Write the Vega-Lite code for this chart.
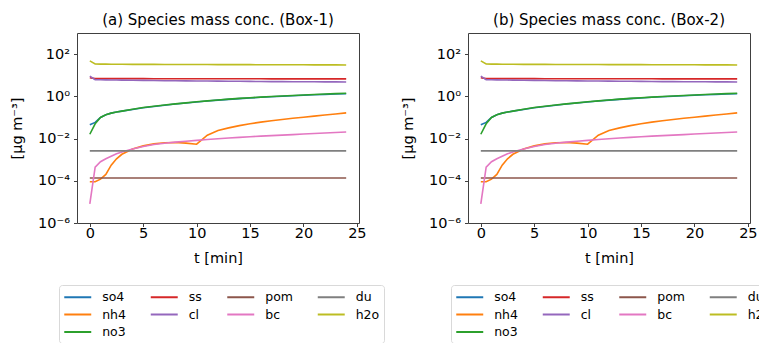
{
  "$schema": "https://vega.github.io/schema/vega-lite/v6.json",
  "padding": {"left": 9, "top": 12, "right": 0, "bottom": 0},
  "bounds": "flush",
  "spacing": 109,
  "background": "white",
  "config": {
    "font": "DejaVu Sans",
    "view": {"stroke": "#404040", "strokeWidth": 1},
    "axis": {
      "grid": false, "domain": false, "tickColor": "#404040", "tickSize": 3.5, "tickWidth": 1,
      "labelFontSize": 14.5, "labelColor": "#000", "titleFontSize": 14.5, "titleFontWeight": "normal",
      "titleColor": "#000"
    },
    "axisX": {"labelPadding": 0, "titlePadding": 11},
    "axisY": {"labelPadding": 4, "titlePadding": 13},
    "title": {"fontSize": 15, "fontWeight": "normal", "color": "#000", "offset": 5},
    "legend": {"labelFont": "DejaVu Sans"}
  },
  "datasets": {
    "conc": [
      {"t": 0, "so4": 0.045, "nh4": 0.00009, "no3": 0.016, "ss": 7.6, "cl": 9.0, "pom": 0.000135, "bc": 0.000008, "du": 0.0026, "h2o": 48},
      {"t": 0.5, "so4": 0.058, "nh4": 0.00009, "no3": 0.05, "ss": 6.9, "cl": 6.2, "pom": 0.000135, "bc": 0.00044, "du": 0.0026, "h2o": 34},
      {"t": 1, "so4": 0.10, "nh4": 0.00012, "no3": 0.10, "ss": 6.9, "cl": 6.1, "pom": 0.000135, "bc": 0.0008, "du": 0.0026, "h2o": 33.6},
      {"t": 1.5, "so4": 0.135, "nh4": 0.0002, "no3": 0.135, "ss": 6.9, "cl": 6.0, "pom": 0.000135, "bc": 0.0011, "du": 0.0026, "h2o": 33.4},
      {"t": 2, "so4": 0.16, "nh4": 0.00055, "no3": 0.16, "ss": 6.9, "cl": 5.95, "pom": 0.000135, "bc": 0.00145, "du": 0.0026, "h2o": 33.2},
      {"t": 2.5, "so4": 0.18, "nh4": 0.0011, "no3": 0.18, "ss": 6.9, "cl": 5.9, "pom": 0.000135, "bc": 0.0019, "du": 0.0026, "h2o": 33.1},
      {"t": 3, "so4": 0.20, "nh4": 0.0018, "no3": 0.20, "ss": 6.9, "cl": 5.85, "pom": 0.000135, "bc": 0.0023, "du": 0.0026, "h2o": 33.0},
      {"t": 4, "so4": 0.24, "nh4": 0.0032, "no3": 0.245, "ss": 6.88, "cl": 5.8, "pom": 0.000135, "bc": 0.0032, "du": 0.0026, "h2o": 32.8},
      {"t": 5, "so4": 0.29, "nh4": 0.0045, "no3": 0.295, "ss": 6.87, "cl": 5.7, "pom": 0.000135, "bc": 0.0042, "du": 0.0026, "h2o": 32.6},
      {"t": 6, "so4": 0.33, "nh4": 0.0056, "no3": 0.34, "ss": 6.86, "cl": 5.6, "pom": 0.000135, "bc": 0.0052, "du": 0.0026, "h2o": 32.5},
      {"t": 7, "so4": 0.38, "nh4": 0.0063, "no3": 0.39, "ss": 6.85, "cl": 5.5, "pom": 0.000135, "bc": 0.006, "du": 0.0026, "h2o": 32.4},
      {"t": 8, "so4": 0.43, "nh4": 0.0065, "no3": 0.44, "ss": 6.84, "cl": 5.45, "pom": 0.000135, "bc": 0.0068, "du": 0.0026, "h2o": 32.3},
      {"t": 9, "so4": 0.48, "nh4": 0.0061, "no3": 0.49, "ss": 6.83, "cl": 5.4, "pom": 0.000135, "bc": 0.0075, "du": 0.0026, "h2o": 32.2},
      {"t": 10, "so4": 0.54, "nh4": 0.0054, "no3": 0.55, "ss": 6.82, "cl": 5.35, "pom": 0.000135, "bc": 0.0082, "du": 0.0026, "h2o": 32.1},
      {"t": 11, "so4": 0.60, "nh4": 0.0145, "no3": 0.61, "ss": 6.81, "cl": 5.3, "pom": 0.000135, "bc": 0.009, "du": 0.0026, "h2o": 32.0},
      {"t": 12, "so4": 0.66, "nh4": 0.024, "no3": 0.67, "ss": 6.8, "cl": 5.25, "pom": 0.000135, "bc": 0.0098, "du": 0.0026, "h2o": 31.9},
      {"t": 13, "so4": 0.72, "nh4": 0.032, "no3": 0.735, "ss": 6.79, "cl": 5.2, "pom": 0.000135, "bc": 0.0106, "du": 0.0026, "h2o": 31.8},
      {"t": 14, "so4": 0.78, "nh4": 0.041, "no3": 0.80, "ss": 6.78, "cl": 5.15, "pom": 0.000135, "bc": 0.0114, "du": 0.0026, "h2o": 31.7},
      {"t": 15, "so4": 0.84, "nh4": 0.05, "no3": 0.86, "ss": 6.77, "cl": 5.1, "pom": 0.000135, "bc": 0.0122, "du": 0.0026, "h2o": 31.6},
      {"t": 16, "so4": 0.90, "nh4": 0.06, "no3": 0.92, "ss": 6.76, "cl": 5.05, "pom": 0.000135, "bc": 0.013, "du": 0.0026, "h2o": 31.5},
      {"t": 17, "so4": 0.96, "nh4": 0.07, "no3": 0.98, "ss": 6.75, "cl": 5.0, "pom": 0.000135, "bc": 0.0138, "du": 0.0026, "h2o": 31.4},
      {"t": 18, "so4": 1.01, "nh4": 0.08, "no3": 1.04, "ss": 6.74, "cl": 4.97, "pom": 0.000135, "bc": 0.0146, "du": 0.0026, "h2o": 31.3},
      {"t": 19, "so4": 1.07, "nh4": 0.091, "no3": 1.10, "ss": 6.73, "cl": 4.94, "pom": 0.000135, "bc": 0.0154, "du": 0.0026, "h2o": 31.2},
      {"t": 20, "so4": 1.12, "nh4": 0.103, "no3": 1.16, "ss": 6.72, "cl": 4.91, "pom": 0.000135, "bc": 0.0164, "du": 0.0026, "h2o": 31.1},
      {"t": 21, "so4": 1.18, "nh4": 0.116, "no3": 1.22, "ss": 6.71, "cl": 4.88, "pom": 0.000135, "bc": 0.0174, "du": 0.0026, "h2o": 31.0},
      {"t": 22, "so4": 1.23, "nh4": 0.13, "no3": 1.28, "ss": 6.7, "cl": 4.85, "pom": 0.000135, "bc": 0.0184, "du": 0.0026, "h2o": 30.9},
      {"t": 23, "so4": 1.28, "nh4": 0.146, "no3": 1.34, "ss": 6.7, "cl": 4.82, "pom": 0.000135, "bc": 0.0194, "du": 0.0026, "h2o": 30.8},
      {"t": 24, "so4": 1.33, "nh4": 0.165, "no3": 1.40, "ss": 6.7, "cl": 4.8, "pom": 0.000135, "bc": 0.0205, "du": 0.0026, "h2o": 30.7}
    ]
  },
  "resolve": {"scale": {"color": "independent"}, "legend": {"color": "independent"}},
  "hconcat": [
    {
      "width": 282, "height": 190,
      "title": "(a) Species mass conc. (Box-1)",
      "data": {"name": "conc"},
      "transform": [{"fold": ["so4", "nh4", "no3", "ss", "cl", "pom", "bc", "du", "h2o"], "as": ["species", "value"]}],
      "mark": {"type": "line", "strokeWidth": 1.6, "clip": true},
      "encoding": {
        "x": {"field": "t", "type": "quantitative", "scale": {"domain": [-1.2, 25.2], "nice": false, "zero": false}, "axis": {"values": [0, 5, 10, 15, 20, 25], "title": "t [min]"}},
        "y": {"field": "value", "type": "quantitative", "scale": {"type": "log", "domain": [0.000001, 1000], "nice": false}, "axis": {"values": [0.000001, 0.0001, 0.01, 1, 100], "labelExpr": "datum.value > 50 ? '10²' : datum.value > 0.5 ? '10⁰' : datum.value > 0.005 ? '10⁻²' : datum.value > 0.00005 ? '10⁻⁴' : '10⁻⁶'", "title": "[μg m⁻³]"}},
        "color": {"field": "species", "type": "nominal",
          "scale": {"domain": ["so4", "ss", "pom", "du", "nh4", "cl", "bc", "h2o", "no3"], "range": ["#1f77b4", "#d62728", "#8c564b", "#7f7f7f", "#ff7f0e", "#9467bd", "#e377c2", "#bcbd22", "#2ca02c"]},
          "legend": {"title": null, "orient": "none", "direction": "horizontal", "gridAlign": "each", "legendX": -18, "legendY": 252, "columns": 4, "symbolType": "M-1,0H3", "symbolSize": 182, "symbolStrokeWidth": 2, "labelFontSize": 12.5, "labelOffset": 23.2, "columnPadding": 20.5, "rowPadding": 2.5, "padding": 4, "strokeColor": "#d9d9d9", "cornerRadius": 3, "fillColor": "white", "labelColor": "#000"}
        }
      }
    },
    {
      "width": 282, "height": 190,
      "title": "(b) Species mass conc. (Box-2)",
      "data": {"name": "conc"},
      "transform": [{"fold": ["so4", "nh4", "no3", "ss", "cl", "pom", "bc", "du", "h2o"], "as": ["species", "value"]}],
      "mark": {"type": "line", "strokeWidth": 1.6, "clip": true},
      "encoding": {
        "x": {"field": "t", "type": "quantitative", "scale": {"domain": [-1.2, 25.2], "nice": false, "zero": false}, "axis": {"values": [0, 5, 10, 15, 20, 25], "title": "t [min]"}},
        "y": {"field": "value", "type": "quantitative", "scale": {"type": "log", "domain": [0.000001, 1000], "nice": false}, "axis": {"values": [0.000001, 0.0001, 0.01, 1, 100], "labelExpr": "datum.value > 50 ? '10²' : datum.value > 0.5 ? '10⁰' : datum.value > 0.005 ? '10⁻²' : datum.value > 0.00005 ? '10⁻⁴' : '10⁻⁶'", "title": "[μg m⁻³]"}},
        "color": {"field": "species", "type": "nominal",
          "scale": {"domain": ["so4", "ss", "pom", "du", "nh4", "cl", "bc", "h2o", "no3"], "range": ["#1f77b4", "#d62728", "#8c564b", "#7f7f7f", "#ff7f0e", "#9467bd", "#e377c2", "#bcbd22", "#2ca02c"]},
          "legend": {"title": null, "orient": "none", "direction": "horizontal", "gridAlign": "each", "legendX": -17, "legendY": 252, "columns": 4, "symbolType": "M-1,0H3", "symbolSize": 182, "symbolStrokeWidth": 2, "labelFontSize": 12.5, "labelOffset": 23.2, "columnPadding": 20.5, "rowPadding": 2.5, "padding": 4, "strokeColor": "#d9d9d9", "cornerRadius": 3, "fillColor": "white", "labelColor": "#000"}
        }
      }
    }
  ]
}
